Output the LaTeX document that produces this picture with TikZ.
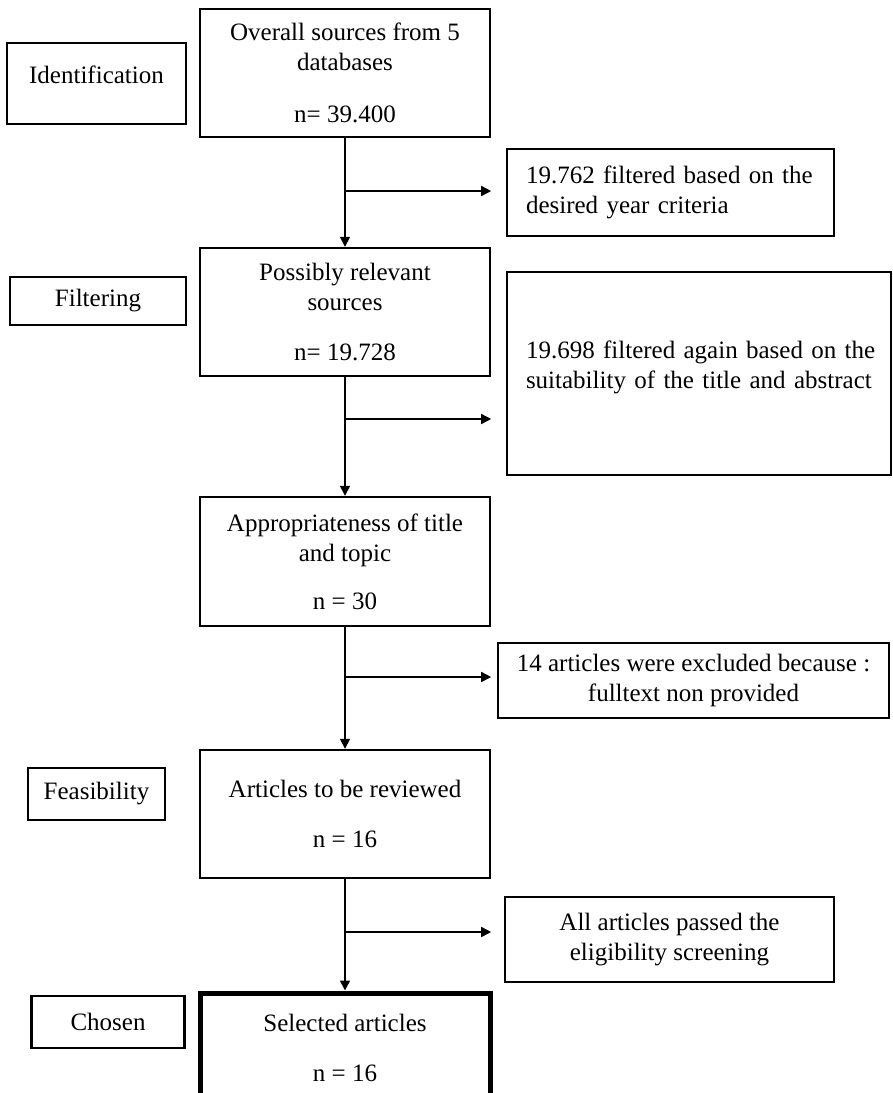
\documentclass[tikz,border=0pt]{standalone}
\usepackage{fontspec}
\setmainfont{Liberation Serif}
\usetikzlibrary{arrows.meta}

\begin{document}
\begin{tikzpicture}[x=0.5pt, y=-0.5pt,
  box/.style={draw, line width=1.2pt, inner sep=0pt, align=center, font=\fontsize{12.5}{15}\selectfont},
  mainbox/.style={box, minimum width=145pt, minimum height=64pt},
  conn/.style={line width=0.8pt, -{Triangle[length=5pt,width=5pt]}}]
\useasboundingbox (0,0) rectangle (893,1093);

% stage labels
\node[box, minimum width=89.5pt, minimum height=40.5pt, text depth=9pt] (ident) at (96.5,83.5) {Identification};
\node[box, minimum width=88pt, minimum height=24pt] (filt) at (98,301) {Filtering};
\node[box, minimum width=68.5pt, minimum height=26pt] (feas) at (96.5,794) {Feasibility};
\node[box, minimum width=76.5pt, minimum height=26pt] (chosen) at (108,1022) {Chosen};

% main column
\node[mainbox] (m1) at (345,73) {Overall sources from 5\\databases\\[11pt]n= 39.400};
\node[mainbox] (m2) at (345,312) {Possibly relevant\\sources\\[10pt]n= 19.728};
\node[mainbox, minimum height=64.5pt] (m3) at (345,561.5) {Appropriateness of title\\and topic\\[9pt]n = 30};
\node[mainbox] (m4) at (345,814) {Articles to be reviewed\\[10pt]n = 16};
\node[mainbox, minimum height=55pt, line width=2.5pt] (m5) at (345,1048) {Selected articles\\[10pt]n = 16};

% excluded
\node[box, minimum width=163.5pt, minimum height=43.5pt, text width=144.5pt, align=left] (s1) at (670.5,192.5) {\mbox{19.762 filtered based on the}\\\mbox{desired year criteria}};
\node[box, minimum width=192pt, minimum height=101.5pt, text width=173pt, align=left] (s2) at (699,373.5) {\mbox{19.698 filtered again based on the}\\\mbox{suitability of the title and abstract}\\[-6pt]\mbox{}};
\node[box, minimum width=195.5pt, minimum height=37.5pt] (s3) at (693.5,680.5) {14 articles were excluded because :\\fulltext non provided};
\node[box, minimum width=164.5pt, minimum height=42.5pt] (s4) at (669.5,939.5) {All articles passed the\\eligibility screening};

\draw[conn] (m1) -- (m2);
\draw[conn] (m2) -- (m3);
\draw[conn] (m3) -- (m4);
\draw[conn] (m4) -- (m5);

\coordinate (b1) at (345,191);
\coordinate (b2) at (345,419);
\coordinate (b3) at (345,677);
\coordinate (b4) at (345,932);
\draw[conn] (b1) -- (b1 -| m1.east);
\draw[conn] (b2) -- (b2 -| m2.east);
\draw[conn] (b3) -- (b3 -| m3.east);
\draw[conn] (b4) -- (b4 -| m4.east);
%\draw (current bounding box.south west) rectangle (current bounding box.north east);
\end{tikzpicture}
\end{document}
